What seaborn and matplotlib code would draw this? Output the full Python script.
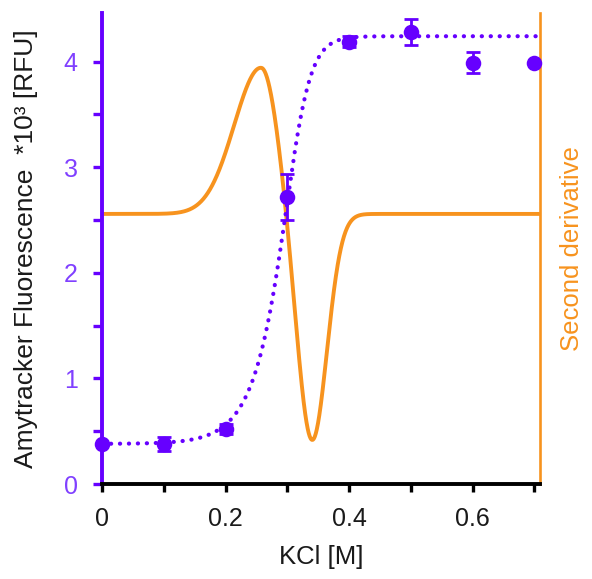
import numpy as np
import matplotlib
matplotlib.use("Agg")
import matplotlib.pyplot as plt
from matplotlib.ticker import MultipleLocator, FixedLocator
import seaborn as sns

# Measured titration points (KCl in M, fluorescence in 10^3 RFU)
kcl = [0.0, 0.1, 0.2, 0.3, 0.4, 0.5, 0.6, 0.7]
fluor = [0.38, 0.38, 0.52, 2.72, 4.19, 4.28, 3.99, 3.99]
fluor_err = [0.0, 0.065, 0.05, 0.22, 0.05, 0.12, 0.10, 0.0]

# Asymmetric sigmoid fit: bottom, top, midpoint, rate, shape
fit_bottom = 0.38
fit_top = 4.24
fit_mid = 0.311
fit_rate = 55.0
fit_shape = 2.0

# Second-derivative trace: positive lobe (centre, left/right widths, height)
# and negative lobe (centre, width, depth)
pos_center = 0.258
pos_width_left = 0.044
pos_width_right = 0.027
pos_height = 1.0
neg_center = 0.340
neg_width = 0.024
neg_depth = 1.55

x_ticks = [0.0, 0.2, 0.4, 0.6]
x_tick_labels = ["0", "0.2", "0.4", "0.6"]
y_ticks = [0, 1, 2, 3, 4]

PURPLE = "#6600FF"
PURPLE_TXT = "#8040FF"
ORANGE = "#F7931E"
INK = "#1a1a1a"

sns.set_style("ticks")
plt.rcParams["font.family"] = ["Liberation Sans", "DejaVu Sans"]

x_max = 0.709
xs = np.linspace(0.0, x_max, 1400)

# sigmoid fit curve
fit_y = fit_bottom + (fit_top - fit_bottom) * (1.0 + np.exp(-fit_rate * (xs - fit_mid))) ** (-1.0 / fit_shape)

# second-derivative trace, normalised so the trough sits at -1
pos_w = np.where(xs < pos_center, pos_width_left, pos_width_right)
d2 = (pos_height * np.exp(-0.5 * ((xs - pos_center) / pos_w) ** 2)
      - neg_depth * np.exp(-0.5 * ((xs - neg_center) / neg_width) ** 2))
d2 = d2 / np.abs(d2.min())

fig = plt.figure(figsize=(5.92, 5.79), dpi=100)
ax = fig.add_axes([102 / 592, 95 / 579, 438 / 592, 471 / 579])
ax2 = ax.twinx()

# orange second-derivative curve on the secondary axis
sns.lineplot(x=xs, y=d2, ax=ax2, color=ORANGE, linewidth=2.8, solid_capstyle="round")
ax2.set_ylim(-1.195, 0.889)
ax2.set_yticks([])
ax2.set_ylabel("Second derivative", color=ORANGE, fontsize=18.5, rotation=90)
ax2.yaxis.set_label_coords(1.046, 0.50)
for side in ("left", "top", "bottom"):
    ax2.spines[side].set_visible(False)
ax2.spines["right"].set_color(ORANGE)
ax2.spines["right"].set_linewidth(1.9)

# primary axis drawn above the orange trace
ax.set_zorder(ax2.get_zorder() + 1)
ax.patch.set_visible(False)

sns.lineplot(x=xs, y=fit_y, ax=ax, color=PURPLE, linewidth=3.0,
             linestyle=(0, (0.05, 2.1)), dash_capstyle="round")
ax.errorbar(kcl, fluor, yerr=fluor_err, fmt="none", ecolor=PURPLE,
            elinewidth=2.0, capsize=5, capthick=2.0, zorder=4, clip_on=False)
sns.scatterplot(x=kcl, y=fluor, ax=ax, s=125, color=PURPLE, edgecolor=PURPLE,
                linewidth=0, zorder=5, clip_on=False)

ax.set_xlim(0.0, x_max)
ax.set_ylim(0.0, 4.46)

ax.xaxis.set_major_locator(FixedLocator(x_ticks))
ax.set_xticklabels(x_tick_labels)
ax.xaxis.set_minor_locator(FixedLocator([0.1, 0.3, 0.5, 0.7]))
ax.yaxis.set_major_locator(FixedLocator(y_ticks))
ax.yaxis.set_minor_locator(MultipleLocator(0.5))

ax.tick_params(axis="x", which="both", direction="out", length=5.5, width=2.4,
               color="black", labelsize=18, labelcolor=INK, pad=11)
ax.tick_params(axis="y", which="both", direction="out", length=6.5, width=2.4,
               color=PURPLE, labelsize=18, labelcolor=PURPLE_TXT, pad=11)

for side in ("top", "right"):
    ax.spines[side].set_visible(False)
ax.spines["left"].set_color(PURPLE)
ax.spines["left"].set_linewidth(2.8)
ax.spines["bottom"].set_color("black")
ax.spines["bottom"].set_linewidth(2.8)

ax.set_xlabel("KCl [M]", fontsize=18.5, color=INK)
ax.xaxis.set_label_coords(0.5, -0.130)
ax.set_ylabel("Amytracker Fluorescence  *10³ [RFU]", fontsize=19, color=INK)
ax.yaxis.set_label_coords(-0.146, 0.499)

fig.savefig("out.png", dpi=100)
